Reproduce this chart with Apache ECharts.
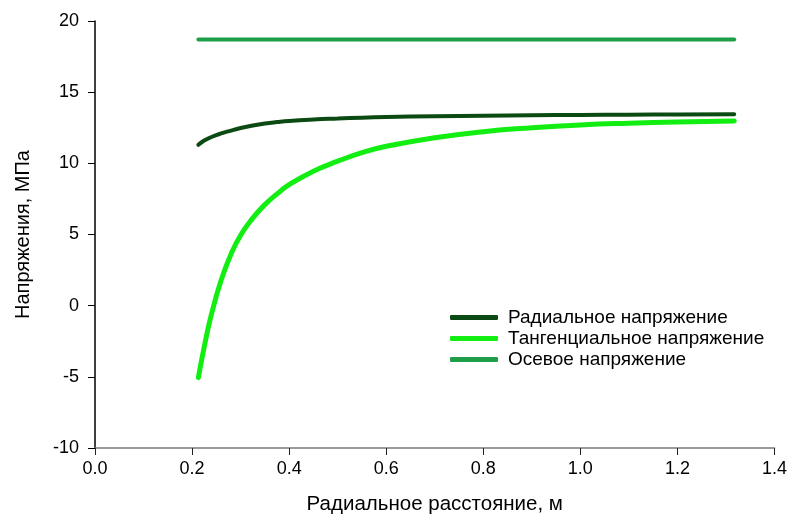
<!DOCTYPE html>
<html>
<head>
<meta charset="utf-8">
<script src="https://cdn.jsdelivr.net/npm/echarts@6/dist/echarts.min.js"></script>
<style>
  html, body { margin: 0; padding: 0; background: #fff; }
  #chart { width: 790px; height: 520px; }
</style>
</head>
<body>
<div id="chart"></div>
<script>
// radius, m
const radius = [0.213, 0.225, 0.24, 0.26, 0.28, 0.3, 0.325, 0.35, 0.375, 0.4, 0.45, 0.5, 0.55, 0.6, 0.7, 0.8, 0.9, 1.0, 1.1, 1.2, 1.317]
// stresses, MPa
const radialStress = [11.3, 11.6, 11.85, 12.1, 12.3, 12.48, 12.66, 12.8, 12.9, 12.98, 13.08, 13.15, 13.21, 13.25, 13.31, 13.35, 13.38, 13.4, 13.42, 13.43, 13.44]
const tangentialStress = [-5.05, -2.9, -0.6, 1.8, 3.6, 4.95, 6.15, 7.1, 7.85, 8.5, 9.45, 10.15, 10.75, 11.2, 11.8, 12.22, 12.5, 12.7, 12.82, 12.9, 12.98]
const axialRadius = [0.213, 1.317]
const axialStress = [18.7, 18.7]

const seriesNames = ['Радиальное напряжение', 'Тангенциальное напряжение', 'Осевое напряжение']
const seriesColors = ['#0b4a12', '#12ee12', '#1f9e4a']

const zip = (xs, ys) => xs.map((x, i) => [x, ys[i]])

const font = 'Liberation Sans, Arial, sans-serif'
const chart = echarts.init(document.getElementById('chart'))

chart.setOption({
  animation: false,
  grid: { left: 95, right: 12, top: 21, bottom: 69 },
  legend: {
    orient: 'vertical',
    left: 450,
    top: 308,
    padding: 0,
    itemWidth: 48,
    itemHeight: 5,
    itemGap: 2,
    icon: 'roundRect',
    textStyle: { fontFamily: font, fontSize: 19, color: '#000', padding: [0, 0, 0, 5] },
    data: seriesNames
  },
  xAxis: {
    type: 'value',
    min: 0,
    max: 1.4,
    interval: 0.2,
    name: 'Радиальное расстояние, м',
    nameLocation: 'middle',
    nameGap: 46,
    nameTextStyle: { fontFamily: font, fontSize: 20.5, color: '#000' },
    axisLine: { onZero: false, lineStyle: { color: '#7a7a7a', width: 1.5 } },
    axisTick: { show: true, length: 7, lineStyle: { color: '#222' } },
    axisLabel: {
      fontFamily: font, fontSize: 18, color: '#000', margin: 12,
      formatter: v => v.toFixed(1)
    },
    splitLine: { show: false }
  },
  yAxis: {
    type: 'value',
    min: -10,
    max: 20,
    interval: 5,
    name: 'Напряжения, МПа',
    nameLocation: 'middle',
    nameGap: 62,
    nameTextStyle: { fontFamily: font, fontSize: 20, color: '#000' },
    axisLine: { show: true, onZero: false, lineStyle: { color: '#000', width: 1.5 } },
    axisTick: { show: true, length: 7, lineStyle: { color: '#000' } },
    axisLabel: { fontFamily: font, fontSize: 18, color: '#000', margin: 16 },
    splitLine: { show: false }
  },
  series: [
    {
      name: seriesNames[0],
      type: 'line',
      smooth: true,
      showSymbol: false,
      color: seriesColors[0],
      lineStyle: { width: 4, cap: 'round' },
      data: zip(radius, radialStress)
    },
    {
      name: seriesNames[1],
      type: 'line',
      smooth: true,
      showSymbol: false,
      color: seriesColors[1],
      lineStyle: { width: 5, cap: 'round' },
      data: zip(radius, tangentialStress)
    },
    {
      name: seriesNames[2],
      type: 'line',
      showSymbol: false,
      color: seriesColors[2],
      lineStyle: { width: 4, cap: 'round' },
      data: zip(axialRadius, axialStress)
    }
  ]
})
</script>
</body>
</html>
